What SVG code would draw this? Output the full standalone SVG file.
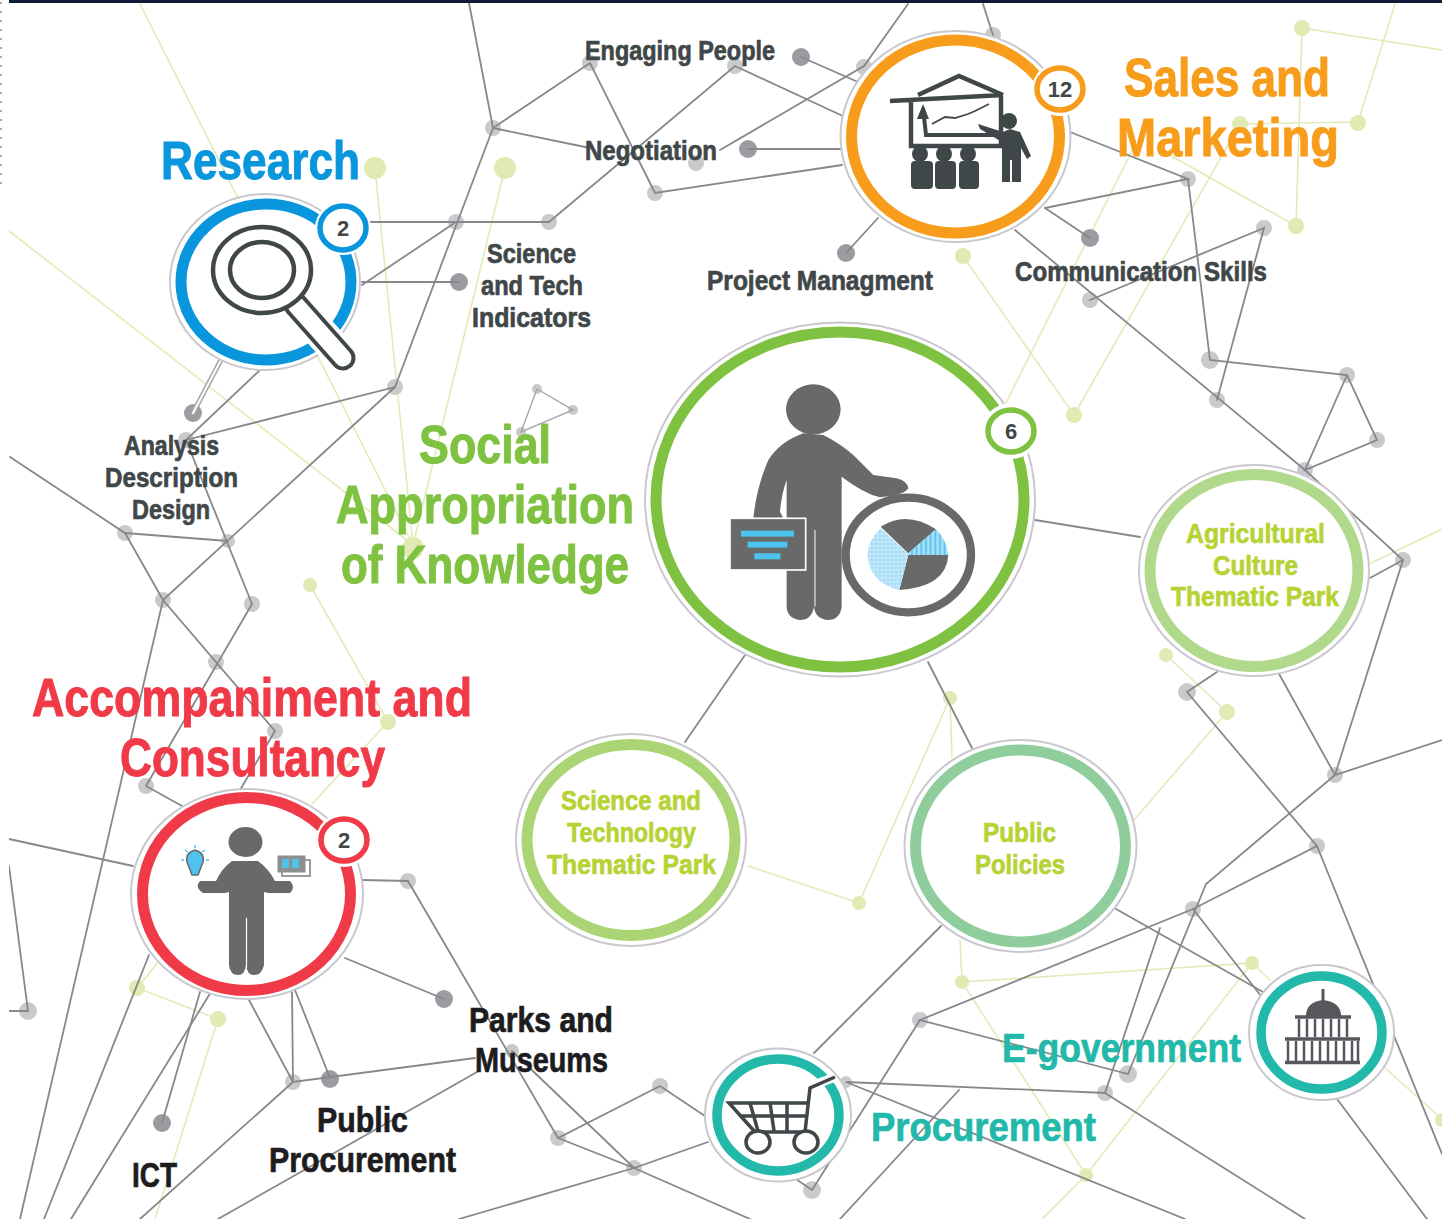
<svg xmlns="http://www.w3.org/2000/svg" width="1442" height="1219" viewBox="0 0 1442 1219">
<style>
text{font-family:"Liberation Sans Narrow","Liberation Sans",Arial,sans-serif;font-weight:700;text-anchor:start;stroke-width:.7;paint-order:stroke}
.big{font-size:54px;stroke-width:1}.mid{font-size:28px;fill:#3f4748;stroke:#3f4748}.lime{font-size:28px;fill:#b6d335;stroke:#b6d335}.blk{font-size:35px;fill:#1d1d1f;stroke:#1d1d1f}.teal{font-size:41px;fill:#22b8aa;stroke:#22b8aa}
.num{font-size:22px;fill:#3f4748;text-anchor:middle}
.blue{fill:#0a96dc;stroke:#0a96dc}.org{fill:#f89c1c;stroke:#f89c1c}.grn{fill:#7fc241;stroke:#7fc241}.red{fill:#f03a48;stroke:#f03a48}
.conn path{fill:none;stroke-linecap:round}
.gl path{stroke:#86888b;stroke-width:1.8}
.ll path{stroke:#e2ebb8;stroke-width:1.6}
.hub{fill:#c9cacc}.dot{fill:#9b9ca2}.gn{fill:#e0eab2}
.out{fill:#fff;stroke:#c8c8ce;stroke-width:2}
.ring{fill:none;stroke-width:11}
.bd{fill:#fff;stroke-width:5.5}
.halo{fill:#fff}
.ic{fill:#676a69}.dk{fill:#3f4748}
</style>
<defs>
<pattern id="hatch" width="12" height="12" patternUnits="userSpaceOnUse"><rect width="12" height="12" fill="#7fcdf0"/><path d="M0 3H12M3 0V12M0 8H12M8 0V12" stroke="#e4f5fd" stroke-width="2"/></pattern>
<pattern id="stripe" width="14" height="14" patternUnits="userSpaceOnUse"><rect width="14" height="14" fill="#a8e0f7"/><path d="M4 0V14" stroke="#4fc0ee" stroke-width="5"/></pattern>
</defs>
<rect width="1442" height="1219" fill="#fff"/>
<g id="connectors" class="conn">
<g class="ll">
<path d="M140 4L413 545"/><path d="M9 231L413 545"/><path d="M375 168L413 545"/><path d="M505 168L413 545"/>
<path d="M310 585L388 722L312 804"/><path d="M160 960L137 988L218 1019L155 1219"/>
<path d="M1442 50L1302 28L1296 226L1157 148"/><path d="M1240 124L1358 122L1395 4"/><path d="M1240 124L1074 415L963 256"/><path d="M1135 145L1005 405"/>
<path d="M1442 529L1369 564"/><path d="M1166 655L1227 712L1134 820"/><path d="M748 866L859 903L950 698L952 757"/>
<path d="M960 940L962 982L1252 963L1086 1175L962 982"/><path d="M1086 1175L1042 1219"/><path d="M1252 963L1270 980"/><path d="M1385 1068L1442 1119"/>
</g>
<g id="light-nodes">
<circle class="gn" cx="375" cy="168" r="11"/><circle class="gn" cx="505" cy="168" r="11"/><circle class="gn" cx="413" cy="548" r="11"/><circle class="gn" cx="310" cy="585" r="7"/><circle class="gn" cx="388" cy="722" r="8"/><circle class="gn" cx="137" cy="988" r="8"/><circle class="gn" cx="218" cy="1019" r="8"/><circle class="gn" cx="1302" cy="28" r="8"/><circle class="gn" cx="1358" cy="123" r="8"/><circle class="gn" cx="1296" cy="226" r="8"/><circle class="gn" cx="1240" cy="124" r="8"/><circle class="gn" cx="963" cy="256" r="8"/><circle class="gn" cx="1074" cy="415" r="8"/><circle class="gn" cx="1166" cy="655" r="7"/><circle class="gn" cx="1227" cy="712" r="8"/><circle class="gn" cx="950" cy="698" r="7"/><circle class="gn" cx="859" cy="903" r="7"/><circle class="gn" cx="962" cy="982" r="7"/><circle class="gn" cx="1252" cy="963" r="7"/><circle class="gn" cx="1086" cy="1175" r="7"/><circle class="gn" cx="1442" cy="1120" r="7"/>
</g>
<g id="hubs">
<circle class="hub" cx="493" cy="128" r="8"/><circle class="hub" cx="590" cy="63" r="8"/><circle class="hub" cx="735" cy="66" r="8"/><circle class="hub" cx="655" cy="193" r="8"/><circle class="hub" cx="696" cy="163" r="8"/><circle class="hub" cx="456" cy="222" r="8"/><circle class="hub" cx="549" cy="222" r="8"/><circle class="hub" cx="395" cy="387" r="8"/><circle class="hub" cx="186" cy="440" r="8"/><circle class="hub" cx="125" cy="533" r="8"/><circle class="hub" cx="228" cy="541" r="7"/><circle class="hub" cx="163" cy="600" r="8"/><circle class="hub" cx="252" cy="604" r="8"/><circle class="hub" cx="216" cy="662" r="8"/><circle class="hub" cx="275" cy="731" r="8"/><circle class="hub" cx="146" cy="786" r="8"/><circle class="hub" cx="28" cy="1011" r="9"/><circle class="hub" cx="293" cy="1082" r="8"/><circle class="hub" cx="408" cy="881" r="8"/><circle class="hub" cx="512" cy="1051" r="7"/><circle class="hub" cx="558" cy="1138" r="8"/><circle class="hub" cx="660" cy="1086" r="8"/><circle class="hub" cx="634" cy="1168" r="8"/><circle class="hub" cx="864" cy="67" r="8"/><circle class="hub" cx="993" cy="35" r="8"/><circle class="hub" cx="1188" cy="179" r="8"/><circle class="hub" cx="1264" cy="228" r="8"/><circle class="hub" cx="1090" cy="300" r="8"/><circle class="hub" cx="1210" cy="360" r="9"/><circle class="hub" cx="1217" cy="400" r="8"/><circle class="hub" cx="1347" cy="375" r="8"/><circle class="hub" cx="1377" cy="440" r="8"/><circle class="hub" cx="1305" cy="470" r="8"/><circle class="hub" cx="1403" cy="560" r="8"/><circle class="hub" cx="1187" cy="692" r="9"/><circle class="hub" cx="1335" cy="775" r="8"/><circle class="hub" cx="1317" cy="846" r="8"/><circle class="hub" cx="1193" cy="909" r="8"/><circle class="hub" cx="920" cy="1020" r="8"/><circle class="hub" cx="1128" cy="1074" r="9"/><circle class="hub" cx="1105" cy="1093" r="8"/><circle class="hub" cx="812" cy="1190" r="9"/><circle class="hub" cx="846" cy="1082" r="6"/><circle class="hub" cx="537" cy="389" r="5"/><circle class="hub" cx="573" cy="410" r="5"/><circle class="hub" cx="521" cy="432" r="5"/>
<circle class="dot" cx="801" cy="57" r="9"/><circle class="dot" cx="748" cy="149" r="9"/><circle class="dot" cx="846" cy="253" r="9"/><circle class="dot" cx="1090" cy="238" r="9"/><circle class="dot" cx="459" cy="282" r="9"/><circle class="dot" cx="193" cy="413" r="9"/><circle class="dot" cx="162" cy="1123" r="9"/><circle class="dot" cx="330" cy="1079" r="9"/><circle class="dot" cx="444" cy="999" r="9"/>
</g>
<g class="gl">
<path d="M469 3L493 128L590 63L655 193L842 165"/><path d="M493 128L590 148"/><path d="M493 128L395 387L186 440"/>
<path d="M549 222L735 66L845 117"/><path d="M720 150L864 66L908 4"/><path d="M993 35L983 4"/><path d="M801 57L858 82"/><path d="M748 149H842"/><path d="M846 253L878 218"/>
<path d="M370 222H549"/><path d="M362 285L456 222"/><path d="M362 282H459"/>
<path d="M1060 128L1188 179L1045 208"/><path d="M1188 179L1210 360L1347 375L1377 440L1305 470L1347 375"/><path d="M1090 238L1045 208"/>
<path d="M1015 230L1305 470L1403 560L1335 775L1442 740"/><path d="M1090 300L1264 228L1217 400"/><path d="M1403 560L1370 578"/>
<path d="M1278 672L1335 775L1206 884L1128 1074L920 1020L1193 909L1317 846L1187 692L1217 672"/>
<path d="M1160 928L1105 1093L846 1082L1185 1219"/><path d="M1105 1093L1305 1219"/><path d="M1193 909L1261 996"/><path d="M1317 846L1442 1154"/><path d="M1116 909L1263 992"/>
<path d="M941 926L814 1053"/><path d="M920 1020L812 1190L790 1175"/><path d="M959 1090L840 1219"/><path d="M1337 1099L1427 1219"/>
<path d="M1035 520L1140 537"/><path d="M745 655L685 742"/><path d="M928 662L972 748"/>
<path d="M395 387L163 600L20 1219"/><path d="M260 370L186 440L252 604"/><path d="M10 457L125 533L228 541"/><path d="M125 533L163 600L275 731L240 790"/><path d="M252 604L146 786L182 806"/>
<path d="M222 358L193 413" style="stroke:#a5a7aa;stroke-width:5"/><path d="M222 358L193 413" style="stroke:#fff;stroke-width:2"/>
<path d="M9 839L133 866"/><path d="M9 866L28 1011L9 1011"/><path d="M149 955L44 1219"/><path d="M211 992L71 1219"/><path d="M162 1123L200 992"/>
<path d="M249 1000L293 1082L475 1058"/><path d="M292 992L293 1082L140 1219"/><path d="M295 990L330 1078"/><path d="M345 958L444 999"/><path d="M362 880L408 881L558 1138L660 1086L708 1118"/><path d="M512 1051L634 1168L708 1142"/><path d="M558 1138L634 1168L750 1219"/><path d="M634 1168L459 1219"/><path d="M477 1072L218 1219"/>
<path d="M537 389L573 410L521 432Z" style="stroke:#a5a7aa;stroke-width:1.4"/>
</g>
</g>
<rect x="0" y="0" width="9" height="1219" fill="#fff"/>
<path d="M1 2V190" stroke="#8c8cb4" stroke-width="1.5" stroke-dasharray="2 7"/>
<rect x="9" y="0" width="1433" height="3" fill="#0f1c38"/>

<g id="node-research">
<ellipse class="out" cx="265" cy="282" rx="95" ry="88"/>
<ellipse class="ring" stroke="#0a96dc" cx="266" cy="282" rx="85" ry="78"/>
<ellipse class="halo" cx="343" cy="228" rx="28" ry="27"/>
<ellipse class="bd" stroke="#0a96dc" cx="343" cy="228" rx="23" ry="22"/>
<text class="num" x="343" y="236">2</text>
<path d="M296 305L343 358" stroke="#fff" stroke-width="33" stroke-linecap="round"/>
<path d="M296 305L343 358" stroke="#3f4748" stroke-width="25" stroke-linecap="round"/>
<path d="M296 305L343 358" stroke="#fff" stroke-width="17" stroke-linecap="round"/>
<ellipse cx="262" cy="270" rx="49" ry="43" fill="#fff" stroke="#3f4748" stroke-width="4.5"/>
<ellipse cx="262" cy="270" rx="32" ry="28" fill="#fff" stroke="#3f4748" stroke-width="4.5"/>
<text class="big blue" x="161" y="179" textLength="199" lengthAdjust="spacingAndGlyphs">Research</text>
</g>

<g id="node-sales">
<ellipse class="out" cx="955.500" cy="136.500" rx="115" ry="105.500"/>
<ellipse class="ring" stroke="#f89c1c" cx="955.500" cy="136.500" rx="104" ry="96.500"/>
<ellipse class="halo" cx="1060" cy="89" rx="28" ry="27"/>
<ellipse class="bd" stroke="#f89c1c" cx="1060" cy="89" rx="23" ry="21"/>
<text class="num" x="1060" y="97">12</text>
<path d="M890 101L1003 95M918 95L959 76L1003 95M911 99V146H1001V97" fill="none" stroke="#3f4748" stroke-width="4.500"/>
<path d="M923 108L926 135H995" fill="none" stroke="#3f4748" stroke-width="4"/>
<path d="M917 119L923 104L929 119Z" class="dk"/>
<path d="M932 124L945 117L955 118L968 114L975 111L989 104" fill="none" stroke="#3f4748" stroke-width="1.800"/>
<ellipse class="dk" cx="920" cy="154" rx="8" ry="8"/><ellipse class="dk" cx="944" cy="154" rx="8" ry="8"/><ellipse class="dk" cx="968" cy="154" rx="8" ry="8"/>
<rect class="dk" x="911" y="161" width="22" height="28" rx="4"/><rect class="dk" x="935" y="161" width="21" height="28" rx="4"/><rect class="dk" x="959" y="161" width="20" height="28" rx="4"/>
<ellipse class="dk" cx="1009" cy="121" rx="8" ry="8"/>
<path class="dk" d="M978 124L1003 132L1010 129L1020 132L1031 156L1027 159L1021 148V182H1012V160H1010V182H1002V142L980 129Z"/>
<text class="big org" x="1124" y="96" textLength="206" lengthAdjust="spacingAndGlyphs">Sales and</text>
<text class="big org" x="1117" y="156" textLength="222" lengthAdjust="spacingAndGlyphs">Marketing</text>
</g>

<g id="node-social">
<ellipse class="out" cx="840" cy="499.500" rx="195" ry="177"/>
<ellipse class="ring" stroke="#7fc241" cx="840" cy="499.500" rx="184" ry="167.500"/>
<ellipse class="halo" cx="1011" cy="431" rx="29" ry="28"/>
<ellipse class="bd" stroke="#7fc241" cx="1011" cy="431" rx="23" ry="21"/>
<text class="num" x="1011" y="439">6</text>
<g transform="translate(640 320) scale(.3333)">
<ellipse class="ic" cx="520" cy="268" rx="82" ry="75"/>
<path class="ic" d="M490 340L550 345Q600 370 640 405L700 465Q740 470 770 475Q805 485 805 505Q795 525 720 532Q670 520 605 470V860Q600 900 562 900Q525 895 522 860Q515 900 480 900Q442 895 440 860V480Q425 520 420 575L430 595H340Q350 500 385 420Q420 365 490 340Z"/>
<path d="M525 630V860" stroke="#fff" stroke-width="3"/>
<rect class="ic" x="270" y="595" width="227" height="155" stroke="#fff" stroke-width="5"/>
<rect x="303" y="632" width="159" height="18" fill="#4dc3ee"/><rect x="323" y="665" width="119" height="18" fill="#4dc3ee"/><rect x="343" y="700" width="78" height="18" fill="#4dc3ee"/>
<ellipse cx="805" cy="705" rx="188" ry="172" fill="#fff" stroke="#676a69" stroke-width="25"/>
<path class="ic" d="M805 700L722 620Q800 570 888 628Z"/>
<path fill="url(#stripe)" d="M805 700L888 628Q920 660 925 705H805Z"/>
<path class="ic" d="M805 705H925Q920 800 778 810Z"/>
<path fill="url(#hatch)" d="M805 702L778 810Q690 790 682 705Q685 660 722 625Z"/>
</g>
<text class="big grn" x="419" y="463" textLength="132" lengthAdjust="spacingAndGlyphs">Social</text>
<text class="big grn" x="336" y="523" textLength="298" lengthAdjust="spacingAndGlyphs">Appropriation</text>
<text class="big grn" x="341" y="583" textLength="288" lengthAdjust="spacingAndGlyphs">of Knowledge</text>
</g>

<g id="node-consultancy">
<ellipse class="out" cx="247" cy="894" rx="116" ry="105"/>
<ellipse class="ring" stroke="#f03a48" cx="246.500" cy="894" rx="104" ry="96.500"/>
<ellipse class="halo" cx="344" cy="840" rx="28" ry="27"/>
<ellipse class="bd" stroke="#f03a48" cx="344" cy="840" rx="23" ry="21"/>
<text class="num" x="344" y="848">2</text>
<ellipse class="ic" cx="245.500" cy="842" rx="17" ry="15"/>
<path class="ic" d="M232 861H258Q268 868 275 881H290Q296 887 290 893H268L264 892V965Q262 975 254 975Q247 975 246 965Q245 975 238 975Q230 975 229 965V892L225 893H203Q194 887 200 881H216Q222 868 232 861Z"/>
<path d="M246.500 918V968" stroke="#fff" stroke-width="1.200"/>
<path d="M195 850Q205 853 203 862L198 875H192L187 862Q185 853 195 850Z" fill="#4dc3ee" stroke="#676a69" stroke-width="1.500"/>
<path d="M195 845V848M185 850L188 852M205 850L202 852M181 860H184M209 860H206" stroke="#4dc3ee" stroke-width="1.500"/>
<rect x="282" y="860" width="28" height="16" fill="#fff" stroke="#9b9ca2" stroke-width="2"/>
<rect x="278" y="856" width="27" height="16" fill="#8c8f90" stroke="#8c8f90"/>
<rect x="282" y="859" width="7" height="9" fill="#4dc3ee"/><rect x="292" y="859" width="7" height="9" fill="#4dc3ee"/>
<text class="big red" x="32" y="716" textLength="440" lengthAdjust="spacingAndGlyphs">Accompaniment and</text>
<text class="big red" x="120" y="776" textLength="265" lengthAdjust="spacingAndGlyphs">Consultancy</text>
</g>

<g id="node-st-park">
<ellipse class="out" cx="631" cy="840" rx="115" ry="106"/>
<ellipse class="ring" stroke="#abd574" cx="631" cy="840" rx="104" ry="95.500"/>
<text class="lime" x="561" y="810" textLength="140" lengthAdjust="spacingAndGlyphs">Science and</text>
<text class="lime" x="567" y="842" textLength="129" lengthAdjust="spacingAndGlyphs">Technology</text>
<text class="lime" x="547" y="874" textLength="169" lengthAdjust="spacingAndGlyphs">Thematic Park</text>
</g>

<g id="node-agri-park">
<ellipse class="out" cx="1254" cy="570.500" rx="115" ry="105.500"/>
<ellipse class="ring" stroke="#b1d98b" cx="1254" cy="570.500" rx="104" ry="96"/>
<text class="lime" x="1186" y="543" textLength="139" lengthAdjust="spacingAndGlyphs">Agricultural</text>
<text class="lime" x="1213" y="575" textLength="85" lengthAdjust="spacingAndGlyphs">Culture</text>
<text class="lime" x="1171" y="606" textLength="168" lengthAdjust="spacingAndGlyphs">Thematic Park</text>
</g>

<g id="node-public-policies">
<ellipse class="out" cx="1020.500" cy="846" rx="116" ry="106"/>
<ellipse class="ring" stroke="#8fce9c" cx="1020.500" cy="846" rx="105" ry="96"/>
<text class="lime" x="983" y="842" textLength="73" lengthAdjust="spacingAndGlyphs">Public</text>
<text class="lime" x="975" y="874" textLength="90" lengthAdjust="spacingAndGlyphs">Policies</text>
</g>

<g id="node-egov">
<ellipse class="out" cx="1321.500" cy="1032.500" rx="72.500" ry="67.500"/>
<ellipse class="ring" stroke="#22b8aa" cx="1321.500" cy="1032.500" rx="60.500" ry="56.500" style="stroke-width:9.500"/>
<path d="M1306 1016Q1306 1002 1323 1000Q1341 1002 1341 1016Z" fill="#55575c"/>
<path d="M1323 989V1001" stroke="#55575c" stroke-width="3"/>
<path d="M1295 1017H1351M1285 1039H1360M1285 1062.500H1360" stroke="#55575c" stroke-width="3.500"/>
<path d="M1299 1019V1037M1307 1019V1037M1315 1019V1037M1323 1019V1037M1331 1019V1037M1339 1019V1037M1347 1019V1037M1288 1041V1061M1296 1041V1061M1304 1041V1061M1312 1041V1061M1320 1041V1061M1328 1041V1061M1336 1041V1061M1344 1041V1061M1352 1041V1061M1358 1041V1061" stroke="#55575c" stroke-width="2.500"/>
<text class="teal" x="1002" y="1062" textLength="239" lengthAdjust="spacingAndGlyphs">E-government</text>
</g>

<g id="node-procurement">
<ellipse class="out" cx="778" cy="1115" rx="73" ry="66.500"/>
<ellipse class="ring" stroke="#22b8aa" cx="778" cy="1115" rx="61" ry="56" style="stroke-width:9.500"/>
<path d="M835 1077L809 1087L805 1100" stroke="#fff" stroke-width="9" fill="none"/>
<path d="M835 1077L810 1088L805 1132H755L729 1103H808M740 1116H806M750 1103L758 1131M770 1103L774 1131M787 1103V1131" fill="none" stroke="#3f4748" stroke-width="3.500"/>
<ellipse cx="758" cy="1142" rx="12" ry="11" fill="#fff" stroke="#3f4748" stroke-width="3.500"/>
<ellipse cx="806" cy="1142" rx="12" ry="11" fill="#fff" stroke="#3f4748" stroke-width="3.500"/>
<text class="teal" x="871" y="1141" textLength="225" lengthAdjust="spacingAndGlyphs">Procurement</text>
</g>

<g id="labels">
<text class="mid" x="585" y="60" textLength="190" lengthAdjust="spacingAndGlyphs">Engaging People</text>
<text class="mid" x="585" y="160" textLength="132" lengthAdjust="spacingAndGlyphs">Negotiation</text>
<text class="mid" x="707" y="290" textLength="226" lengthAdjust="spacingAndGlyphs">Project Managment</text>
<text class="mid" x="1015" y="281" textLength="252" lengthAdjust="spacingAndGlyphs">Communication Skills</text>
<text class="mid" x="487" y="263" textLength="89" lengthAdjust="spacingAndGlyphs">Science</text>
<text class="mid" x="481" y="295" textLength="102" lengthAdjust="spacingAndGlyphs">and Tech</text>
<text class="mid" x="472" y="327" textLength="119" lengthAdjust="spacingAndGlyphs">Indicators</text>
<text class="mid" x="124" y="455" textLength="95" lengthAdjust="spacingAndGlyphs">Analysis</text>
<text class="mid" x="105" y="487" textLength="133" lengthAdjust="spacingAndGlyphs">Description</text>
<text class="mid" x="132" y="519" textLength="78" lengthAdjust="spacingAndGlyphs">Design</text>
<text class="blk" x="469" y="1032" textLength="144" lengthAdjust="spacingAndGlyphs">Parks and</text>
<text class="blk" x="475" y="1072" textLength="133" lengthAdjust="spacingAndGlyphs">Museums</text>
<text class="blk" x="317" y="1132" textLength="91" lengthAdjust="spacingAndGlyphs">Public</text>
<text class="blk" x="269" y="1172" textLength="187" lengthAdjust="spacingAndGlyphs">Procurement</text>
<text class="blk" x="132" y="1187" textLength="45" lengthAdjust="spacingAndGlyphs">ICT</text>
</g>
</svg>
